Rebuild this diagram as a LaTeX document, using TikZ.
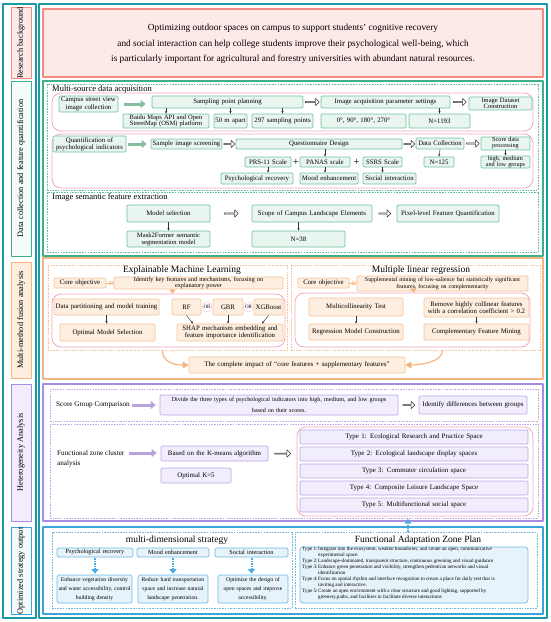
\documentclass[tikz,border=0pt]{standalone}
\usepackage{fontspec}
\setmainfont{Liberation Serif}
\usetikzlibrary{arrows.meta,shapes.arrows,calc}
\definecolor{teal1}{HTML}{1A9AA6}
\definecolor{salB}{HTML}{F28B82}
\definecolor{salF}{HTML}{FDE9E7}
\definecolor{grS}{HTML}{3DB08A}
\definecolor{grD}{HTML}{63C29C}
\definecolor{grB}{HTML}{72C2A0}
\definecolor{grF}{HTML}{E9F6F0}
\definecolor{grL}{HTML}{F5FBF8}
\definecolor{grA}{HTML}{86BCA0}
\definecolor{pkB}{HTML}{F4A5C0}
\definecolor{orS}{HTML}{F4B47F}
\definecolor{orB}{HTML}{F5C397}
\definecolor{orF}{HTML}{FDEEE0}
\definecolor{puS}{HTML}{A88BE3}
\definecolor{puB}{HTML}{BCA6EA}
\definecolor{puF}{HTML}{F2EDFC}
\definecolor{puA}{HTML}{B7A2DA}
\definecolor{blS}{HTML}{3AA3DA}
\definecolor{blB}{HTML}{6DB9E4}
\definecolor{blF}{HTML}{E7F3FB}
\definecolor{blL}{HTML}{F3F9FD}
\definecolor{blA}{HTML}{49ACE0}
\newcommand{\fs}[2]{\fontsize{#1}{#2}\selectfont}
\newcommand{\bx}[7][]{%
 \pgfmathsetmacro\bxw{#5-#3}\pgfmathsetmacro\bxh{#6-#4}\pgfmathsetmacro\bxt{max(#5-#3-2,1)}%
 \node[inner xsep=1pt, inner ysep=0pt, align=center, minimum width=\bxw pt, minimum height=\bxh pt, text width=\bxt pt, #1] (#2) at ({(#3+#5)/2},{(#4+#6)/2}) {#7};}
\newcommand{\lbx}[7][]{%
 \pgfmathsetmacro\bxw{#5-#3}\pgfmathsetmacro\bxh{#6-#4}%
 \node[rotate=90, inner sep=0pt, minimum width=\bxh pt, minimum height=\bxw pt, #1] (#2) at ({(#3+#5)/2},{(#4+#6)/2}) {#7};}
\newcommand{\tyl}[1]{\makebox[16pt][l]{Type #1:}}
\newcommand{\tyi}{\hspace*{16pt}}
\tikzset{
 lab/.style={line width=1pt, font=\fs{8.3}{9}},
 sect/.style={line width=1.1pt},
 dsh/.style={line width=0.8pt, dash pattern=on 1.6pt off 1.1pt},
 pinkc/.style={draw=pkB, line width=0.8pt, rounded corners=9pt},
 ttl/.style={anchor=west, inner sep=0pt, font=\fs{8.5}{9}},
 htl/.style={inner sep=0pt, font=\fs{9.5}{10}},
 gb/.style={draw=grB, fill=grF, line width=0.7pt, rounded corners=1.2pt, font=\fs{6.8}{7.2}},
 ob/.style={draw=orB, fill=orF, line width=0.7pt, rounded corners=1.2pt, font=\fs{6.8}{7.4}},
 pb/.style={draw=puB, fill=puF, line width=0.7pt, rounded corners=1.2pt, font=\fs{6.9}{7.4}},
 bb/.style={draw=blB, fill=blF, line width=0.7pt, rounded corners=1.5pt, font=\fs{6.2}{7}},
 sarr/.style={-{Stealth[length=2.6pt,width=2.2pt]}, line width=0.45pt, black!80},
 garr/.style={-{Triangle[length=5pt,width=8pt]}, line width=3pt, grA},
 parr/.style={-{Triangle[length=5pt,width=8pt]}, line width=3pt, puA},
 harr/.style={single arrow, draw=black!80, fill=white, line width=0.5pt, minimum width=7.5pt, single arrow head extend=1.6pt, inner sep=0pt, anchor=center},
 bdot/.style={blA, line width=2pt, dash pattern=on 1.4pt off 1.1pt, -{Triangle[length=4.5pt,width=7pt]}},
 oarr/.style={orS, line width=1.2pt, -{Triangle[length=6pt,width=7pt]}},
 otri/.style={orS, line width=0.3pt, -{Triangle[length=4pt,width=6pt]}},
 ochev/.style={orS, line width=0.7pt, -{Straight Barb[length=1.6pt,width=4pt] Straight Barb[length=1.6pt,width=4pt]}},
 orc/.style={circle, draw=pkB, dash pattern=on 1pt off 0.8pt, line width=0.5pt, minimum size=10pt, inner sep=0pt, font=\fs{5}{5}},
 plus/.style={inner sep=0pt, font=\fs{11}{11}},
 stxt/.style={anchor=west, inner sep=0pt, font=\fs{7.2}{8}}
}
\begin{document}
\begin{tikzpicture}[x=1pt,y=-1pt,line join=round]
\useasboundingbox (0,0) rectangle (550,622);
% ---------- left column ----------
\bx[draw=teal1, line width=1.3pt]{lcol}{3}{4}{36}{618}{}
\lbx[lab, draw=salB, fill=salF]{l1}{11}{9}{31}{77}{Research background}
\lbx[lab, draw=grS, fill=grL]{l2}{11}{81}{31}{256}{Data collection and feature quantification}
\lbx[lab, draw=orS, fill=orF]{l3}{11}{262}{31}{378}{Multi-method fusion analysis}
\lbx[lab, draw=puS, fill=puF]{l4}{11}{384}{31}{521}{Heterogeneity Analysis}
\lbx[lab, draw=blS, fill=blL]{l5}{11}{528}{31}{614}{Optimized strategy output}
% ---------- main column ----------
\bx[draw=teal1, line width=1.3pt]{rcol}{39}{4}{547}{618}{}
% S1
\bx[sect, draw=salB, fill=salF]{s1}{43}{9}{543}{77}{}
\node[font=\fs{9.3}{15.5}, align=center, inner sep=0pt] (bgtext) at (293,44) {Optimizing outdoor spaces on campus to support students' cognitive recovery\\and social interaction can help college students improve their psychological well-being, which\\is particularly important for agricultural and forestry universities with abundant natural resources.};
% S2
\bx[sect, draw=grS]{s2}{43}{81}{543}{256}{}
\bx[dsh, draw=grD]{d1}{47}{84}{538}{190}{}
\node[ttl] (d1t) at (52,89) {Multi-source data acquisition};
\bx[pinkc]{p1}{52}{93}{533}{131}{}
\bx[pinkc]{p2}{52}{134}{533}{188}{}
\bx[dsh, draw=grD]{d2}{47}{192}{538}{252}{}
\node[ttl] (d2t) at (52,197) {Image semantic feature extraction};
% row 1
\bx[gb]{csv}{59}{96}{118}{112}{Campus street view\\image collection}
\bx[gb]{spp}{152}{96}{303}{108}{Sampling point planning}
\bx[gb, font=\fs{6.5}{6.4}]{baidu}{123}{114}{209}{128}{Baidu Maps API and Open\\StreetMap (OSM) platform}
\bx[gb]{m50}{214}{114}{247}{128}{50 m apart}
\bx[gb]{p297}{252}{114}{313}{128}{297 sampling points}
\bx[gb]{iaps}{321}{96}{450}{108}{Image acquisition parameter settings}
\bx[gb]{deg}{321}{114}{406}{128}{0°, 90°, 180°, 270°}
\bx[gb]{n1193}{409}{114}{470}{128}{N=1193}
\bx[gb, font=\fs{6.5}{6.2}]{idc}{469}{97}{532}{110}{Image Dataset\\Construction}
\draw[garr, shorten <=6pt, shorten >=6pt] (csv.east) -- (csv.east -| spp.west);
\draw[sarr] (baidu.north |- spp.south) -- (baidu.north);
\draw[sarr] (m50.north |- spp.south) -- (m50.north);
\draw[sarr] (p297.north |- spp.south) -- (p297.north);
\path (spp.east) -- node[harr, minimum height=14pt] (h1) {} (iaps.west);
\draw[sarr] (n1193.north |- iaps.south) -- (n1193.north);
\path (iaps.east) -- node[harr, minimum height=13pt] (h2) {} (idc.west |- iaps.east);
% row 2
\bx[gb]{qpi}{53}{136}{126}{152}{Quantification of\\psychological indicators}
\bx[gb]{sis}{151}{139}{222}{149}{Sample image screening}
\bx[gb]{qd}{236}{139}{402}{149}{Questionnaire Design}
\bx[gb]{prs}{245}{157}{291}{167}{PRS-11 Scale}
\bx[gb]{panas}{300}{157}{350}{167}{PANAS scale}
\bx[gb]{ssrs}{363}{157}{402}{167}{SSRS Scale}
\node[plus] (pl1) at (296,162) {+};
\node[plus] (pl2) at (356.5,162) {+};
\bx[gb]{pr}{221}{173}{293}{184}{Psychological recovery}
\bx[gb]{me}{300}{173}{358}{184}{Mood enhancement}
\bx[gb]{si}{363}{173}{416}{184}{Social interaction}
\bx[gb]{dc}{416}{138}{464}{149}{Data Collection}
\bx[gb]{n125}{424}{157}{454}{167}{N=125}
\bx[gb, font=\fs{6.2}{6}]{sdp}{481}{137}{530}{150}{Score data\\processing}
\bx[gb, font=\fs{6.2}{5.8}]{hml}{481}{156}{530}{168}{high, medium\\and low groups}
\draw[garr, shorten <=2pt, shorten >=4pt] (qpi.east |- sis.west) -- (sis.west);
\path (sis.east) -- node[harr, minimum height=11pt] (h3) {} (qd.west);
\draw[sarr] (panas.north |- qd.south) -- (panas.north);
\draw[sarr] (prs.south) -- (prs.south |- pr.north);
\draw[sarr] (panas.south) -- (panas.south |- me.north);
\draw[sarr] (ssrs.south) -- (ssrs.south |- si.north);
\path (qd.east) -- node[harr, minimum height=11pt] (h4) {} (qd.east -| dc.west);
\draw[sarr] (dc.south) -- (n125.north);
\path (dc.east) -- node[harr, minimum height=13pt] (h5) {} (dc.east -| sdp.west);
\draw[sarr] (sdp.south) -- (hml.north);
% image semantic
\bx[gb]{ms}{127}{205}{210}{222}{Model selection}
\bx[gb]{scope}{252}{205}{372}{222}{Scope of Campus Landscape Elements}
\bx[gb]{pix}{397}{205}{499}{222}{Pixel-level Feature Quantification}
\bx[gb, font=\fs{6.6}{7}]{m2f}{127}{231}{210}{247}{Mask2Former semantic\\segmentation model}
\bx[gb]{n38}{252}{231}{345}{247}{N=38}
\path (ms.east) -- node[harr, minimum height=14pt] (h6) {} (scope.west);
\path (scope.east) -- node[harr, minimum height=12pt] (h7) {} (pix.west);
\draw[sarr] (ms.south) -- (m2f.north);
\draw[sarr] (n38.north |- scope.south) -- (n38.north);
% ---------- S3 ----------
\bx[sect, draw=orS]{s3}{43}{258}{543}{379}{}
\bx[dsh, draw=orB]{d3}{48}{265}{287}{350}{}
\bx[dsh, draw=orB]{d4}{291}{265}{540}{350}{}
\node[htl] (d3t) at (182,270) {Explainable Machine Learning};
\node[htl] (d4t) at (421,270) {Multiple linear regression};
\bx[pinkc]{p3}{52}{294}{285}{347}{}
\bx[pinkc]{p4}{295}{293}{530}{347}{}
\bx[ob, font=\fs{6.8}{7}]{co1}{54}{278}{106}{288}{Core objective}
\bx[ob, font=\fs{6.2}{5.8}]{idf}{114}{277}{283}{289}{Identify key features and mechanisms, focusing on\\explanatory power}
\bx[ob]{dpm}{54}{299}{159}{315}{Data partitioning and model training}
\bx[ob]{oms}{60}{324}{155}{341}{Optimal Model Selection}
\bx[ob]{rf}{172}{299}{201}{315}{RF}
\bx[ob]{gbr}{213}{299}{243}{315}{GBR}
\bx[ob]{xgb}{254}{299}{283}{315}{XGBoost}
\node[orc] (or1) at (207,307) {OR};
\node[orc] (or2) at (248.5,307) {OR};
\bx[ob, font=\fs{6.8}{7.4}]{shap}{177}{324}{283}{341}{SHAP mechanism embedding and\\feature importance identification}
\bx[ob, font=\fs{6.8}{7}]{co2}{298}{278}{349}{288}{Core objective}
\bx[ob, font=\fs{5.9}{6.4}]{sup}{357}{276}{528}{291}{Supplemental mining of low-salience but statistically significant\\features, focusing on complementarity}
\bx[ob]{mct}{309}{298}{403}{316}{Multicollinearity Test}
\bx[ob]{rmc}{309}{324}{403}{340}{Regression Model Construction}
\bx[ob, font=\fs{6.8}{7.6}]{rhc}{424}{298}{529}{317}{Remove highly collinear features\\with a correlation coefficient > 0.2}
\bx[ob]{cfm}{424}{324}{529}{340}{Complementary Feature Mining}
\bx[ob, font=\fs{6.9}{7.4}]{cimp}{189}{357}{405}{373}{The complete impact of “core features + supplementary features”}
\draw[ochev] (co1.east) -- (idf.west |- co1.east);
\draw[ochev] (co2.east) -- (sup.west |- co2.east);
\draw[otri] ([xshift=-26pt]idf.south) -- ([xshift=-26pt]idf.south |- p3.north);
\draw[otri] ([xshift=-29pt]sup.south) -- ([xshift=-29pt]sup.south |- p4.north);
\draw[sarr] (dpm.south) -- (dpm.south |- oms.north);
\draw[sarr] (rf.south) -- ([xshift=-37pt]shap.north);
\draw[sarr] (gbr.south) -- (gbr.south |- shap.north);
\draw[sarr] (xgb.south) -- ([xshift=32pt]shap.north);
\draw[sarr] (mct.south) -- (rmc.north);
\draw[sarr] (rhc.south) -- (cfm.north);
\draw[oarr] ([xshift=-5pt]d3.south) .. controls +(0,12) and +(-14,0) .. (cimp.west);
\draw[oarr] ([xshift=27pt]d4.south) .. controls +(0,12) and +(14,0) .. (cimp.east);
% ---------- S4 ----------
\bx[sect, draw=puS]{s4}{43}{384}{543}{521}{}
\bx[dsh, draw=puB]{d5}{50}{389}{538}{421}{}
\bx[dsh, draw=puB]{d6}{50}{424}{538}{518}{}
\node[stxt] (sgc) at (56,405) {Score Group Comparison};
\bx[pb, font=\fs{6.1}{11.5}]{div}{160}{395}{398}{415}{Divide the three types of psychological indicators into high, medium, and low groups\\based on their scores.}
\bx[pb]{idg}{419}{396}{527}{414}{Identify differences between groups}
\draw[parr, shorten <=2pt, shorten >=4pt] (sgc.east) -- (sgc.east -| div.west);
\path (div.east) -- node[harr, minimum height=12pt] (h8) {} (div.east -| idg.west);
\node[stxt] (fzc1) at (57,453) {Functional zone cluster};
\node[stxt] (fzc2) at (57,464) {analysis};
\bx[pb]{km}{161}{446}{268}{461}{Based on the K-means algorithm}
\bx[pb]{ok5}{161}{468}{231}{483}{Optimal K=5}
\draw[parr, shorten <=4pt, shorten >=4pt] (fzc1.east) -- (fzc1.east -| km.west);
\bx[pinkc]{p5}{297}{427}{533}{516}{}
\bx[pb]{t1}{300}{430}{528}{444}{Type 1: Ecological Research and Practice Space}
\bx[pb]{t2}{300}{447}{528}{461}{Type 2: Ecological landscape display spaces}
\bx[pb]{t3}{300}{464}{528}{478}{Type 3: Commuter circulation space}
\bx[pb]{t4}{300}{481}{528}{495}{Type 4: Composite Leisure Landscape Space}
\bx[pb]{t5}{300}{498}{528}{512}{Type 5: Multifunctional social space}
\path (km.east) -- node[harr, minimum height=16pt] (h9) {} (km.east -| p5.west);
% ---------- S5 ----------
\bx[sect, draw=blS]{s5}{43}{527}{543}{614}{}
\bx[dsh, draw=blB]{d7}{52}{532}{292}{608}{}
\bx[dsh, draw=blB]{d8}{295}{532}{537}{608}{}
\node[htl] (d7t) at (177,540) {multi-dimensional strategy};
\node[htl] (d8t) at (418,540) {Functional Adaptation Zone Plan};
\bx[bb]{prh}{57}{548}{133}{557}{Psychological recovery}
\bx[bb]{meh}{137}{548}{209}{557}{Mood enhancement}
\bx[bb]{sih}{215}{548}{288}{557}{Social interaction}
\bx[bb, font=\fs{5.7}{8.8}]{b1}{57}{575}{132}{603}{Enhance vegetation diversity\\and water accessibility, control\\building density}
\bx[bb, font=\fs{5.7}{8.8}]{b2}{138}{575}{208}{603}{Reduce hard transportation\\space and increase natural\\landscape penetration.}
\bx[bb, font=\fs{5.7}{8.8}]{b3}{218}{575}{288}{603}{Optimize the design of\\open spaces and improve\\accessibility.}
\draw[bdot, shorten <=1pt, shorten >=1pt] (prh.south) -- (prh.south |- b1.north);
\draw[bdot, shorten <=1pt, shorten >=1pt] (meh.south) -- (meh.south |- b2.north);
\draw[bdot, shorten <=1pt, shorten >=1pt] (sih.south) -- (sih.south |- b3.north);
\bx[bb, rounded corners=3pt]{fap}{300}{547}{528}{603}{}
\node[anchor=north west, inner sep=0pt, align=left, font=\fs{5.1}{6.05}] (ftext) at (302,546.6) {%
\tyl{1}Integrate into the ecosystem, weaken boundaries, and create an open, communicative\\
\tyi experimental space.\\
\tyl{2}Landscape-dominated, transparent structure, continuous greening and visual guidance\\
\tyl{3}Enhance green penetration and visibility, strengthen pedestrian networks and visual\\
\tyi identification\\
\tyl{4}Focus on spatial rhythm and interface recognition to create a place for daily rest that is\\
\tyi inviting and interactive.\\
\tyl{5}Create an open environment with a clear structure and good lighting, supported by\\
\tyi greenery,paths, and facilities to facilitate diverse interactions};
\draw[bdot, shorten >=0.5pt] ([xshift=-8pt]d8.north) -- ([xshift=-8pt]d8.north |- d6.south);
\end{tikzpicture}
\end{document}
